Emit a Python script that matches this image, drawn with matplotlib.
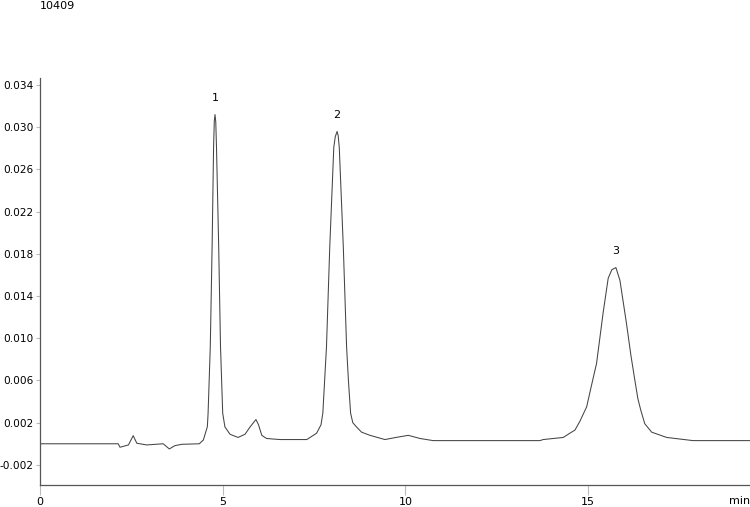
import matplotlib
matplotlib.use("Agg")
from matplotlib import pyplot as plt

# trace: time (min) and signal (AU)
time_min = [0.00, 2.14, 2.19, 2.42, 2.55, 2.65, 2.92, 3.37, 3.54, 3.69, 3.88, 4.36,
            4.47, 4.58, 4.60, 4.66, 4.71, 4.75, 4.77, 4.79, 4.81, 4.83, 4.89, 4.94,
            5.00, 5.06, 5.20, 5.42, 5.61, 5.75, 5.91, 5.98, 6.07, 6.20, 6.57, 7.30,
            7.57, 7.69, 7.74, 7.84, 7.93, 8.04, 8.08, 8.13, 8.16, 8.19, 8.30, 8.39,
            8.44, 8.50, 8.56, 8.66, 8.80, 9.03, 9.44, 9.74, 10.08, 10.40, 10.76,
            13.68, 13.77, 14.32, 14.50, 14.64, 14.77, 14.96, 15.09, 15.23, 15.41,
            15.55, 15.65, 15.76, 15.87, 16.05, 16.17, 16.28, 16.36, 16.44, 16.55,
            16.74, 17.15, 17.87, 18.60, 19.42]
signal = [0.0000, 0.0000, -0.00033, -0.00011, 0.00077, 0.00005, -0.00011, 0.0000,
          -0.00049, -0.00018, -0.00005, 0.0000,
          0.00036, 0.00162, 0.0029, 0.0092, 0.0187, 0.0281, 0.0306, 0.0312, 0.0305, 0.0281,
          0.0187, 0.0092,
          0.0029, 0.0016, 0.0009, 0.0006, 0.0009, 0.0016, 0.0023, 0.0018, 0.0008, 0.0005,
          0.0004, 0.0004,
          0.0010, 0.0018, 0.0029, 0.0092, 0.0187, 0.0281, 0.0291, 0.0296, 0.0292, 0.0281,
          0.0187, 0.0092,
          0.0060, 0.0029, 0.0020, 0.0016, 0.0011, 0.0008, 0.0004, 0.0006, 0.0008, 0.0005,
          0.0003,
          0.0003, 0.0004, 0.0006, 0.0010, 0.0013, 0.0021, 0.0035, 0.0055, 0.0076, 0.0124,
          0.0157, 0.0165, 0.0167, 0.0155, 0.0114, 0.0084, 0.0060, 0.0043, 0.0032, 0.0019,
          0.0011, 0.0006, 0.0003, 0.0003, 0.0003]

peak_labels = ["1", "2", "3"]
peak_times = [4.79, 8.13, 15.76]
peak_heights = [0.0312, 0.0296, 0.0167]

y_ticks = [-0.002, 0.002, 0.006, 0.010, 0.014, 0.018, 0.022, 0.026, 0.030, 0.034]
x_ticks = [0, 5, 10, 15]
sample_name = "10409"

plt.rcParams['font.family'] = ['DejaVu Sans']

fig = plt.figure(figsize=(7.5, 5.07), dpi=100)
ax = fig.add_axes([40 / 750, 22.5 / 507, 710 / 750, 406.2 / 507])

ax.plot(time_min, signal, color='#444444', linewidth=0.75)

for lab, t, h in zip(peak_labels, peak_times, peak_heights):
    ax.annotate(lab, (t, h), xytext=(0, 8), textcoords='offset points',
                ha='center', va='bottom', fontsize=8)

ax.set_xlim(0, 19.43)
ax.set_ylim(-0.00386, 0.03464)
ax.set_xticks(x_ticks)
ax.set_xticklabels([str(t) for t in x_ticks])
ax.set_yticks(y_ticks)
ax.set_yticklabels([f"{v:.3f}" for v in y_ticks])

for s in ['top', 'right']:
    ax.spines[s].set_visible(False)
for s in ['left', 'bottom']:
    ax.spines[s].set_color('#555555')
    ax.spines[s].set_linewidth(0.9)

ax.tick_params(axis='x', length=7, width=0.8, color='#bbbbbb', labelsize=8, pad=2)
ax.tick_params(axis='y', length=3, width=0.8, color='#bbbbbb', labelsize=7.6, pad=1.5)

fig.text(1.0, 1 / 507, "min", ha='right', va='bottom', fontsize=8)
fig.text(40 / 750, 1 - 6 / 507, sample_name, ha='left', va='center', fontsize=8)

fig.savefig("out.png", dpi=100)
